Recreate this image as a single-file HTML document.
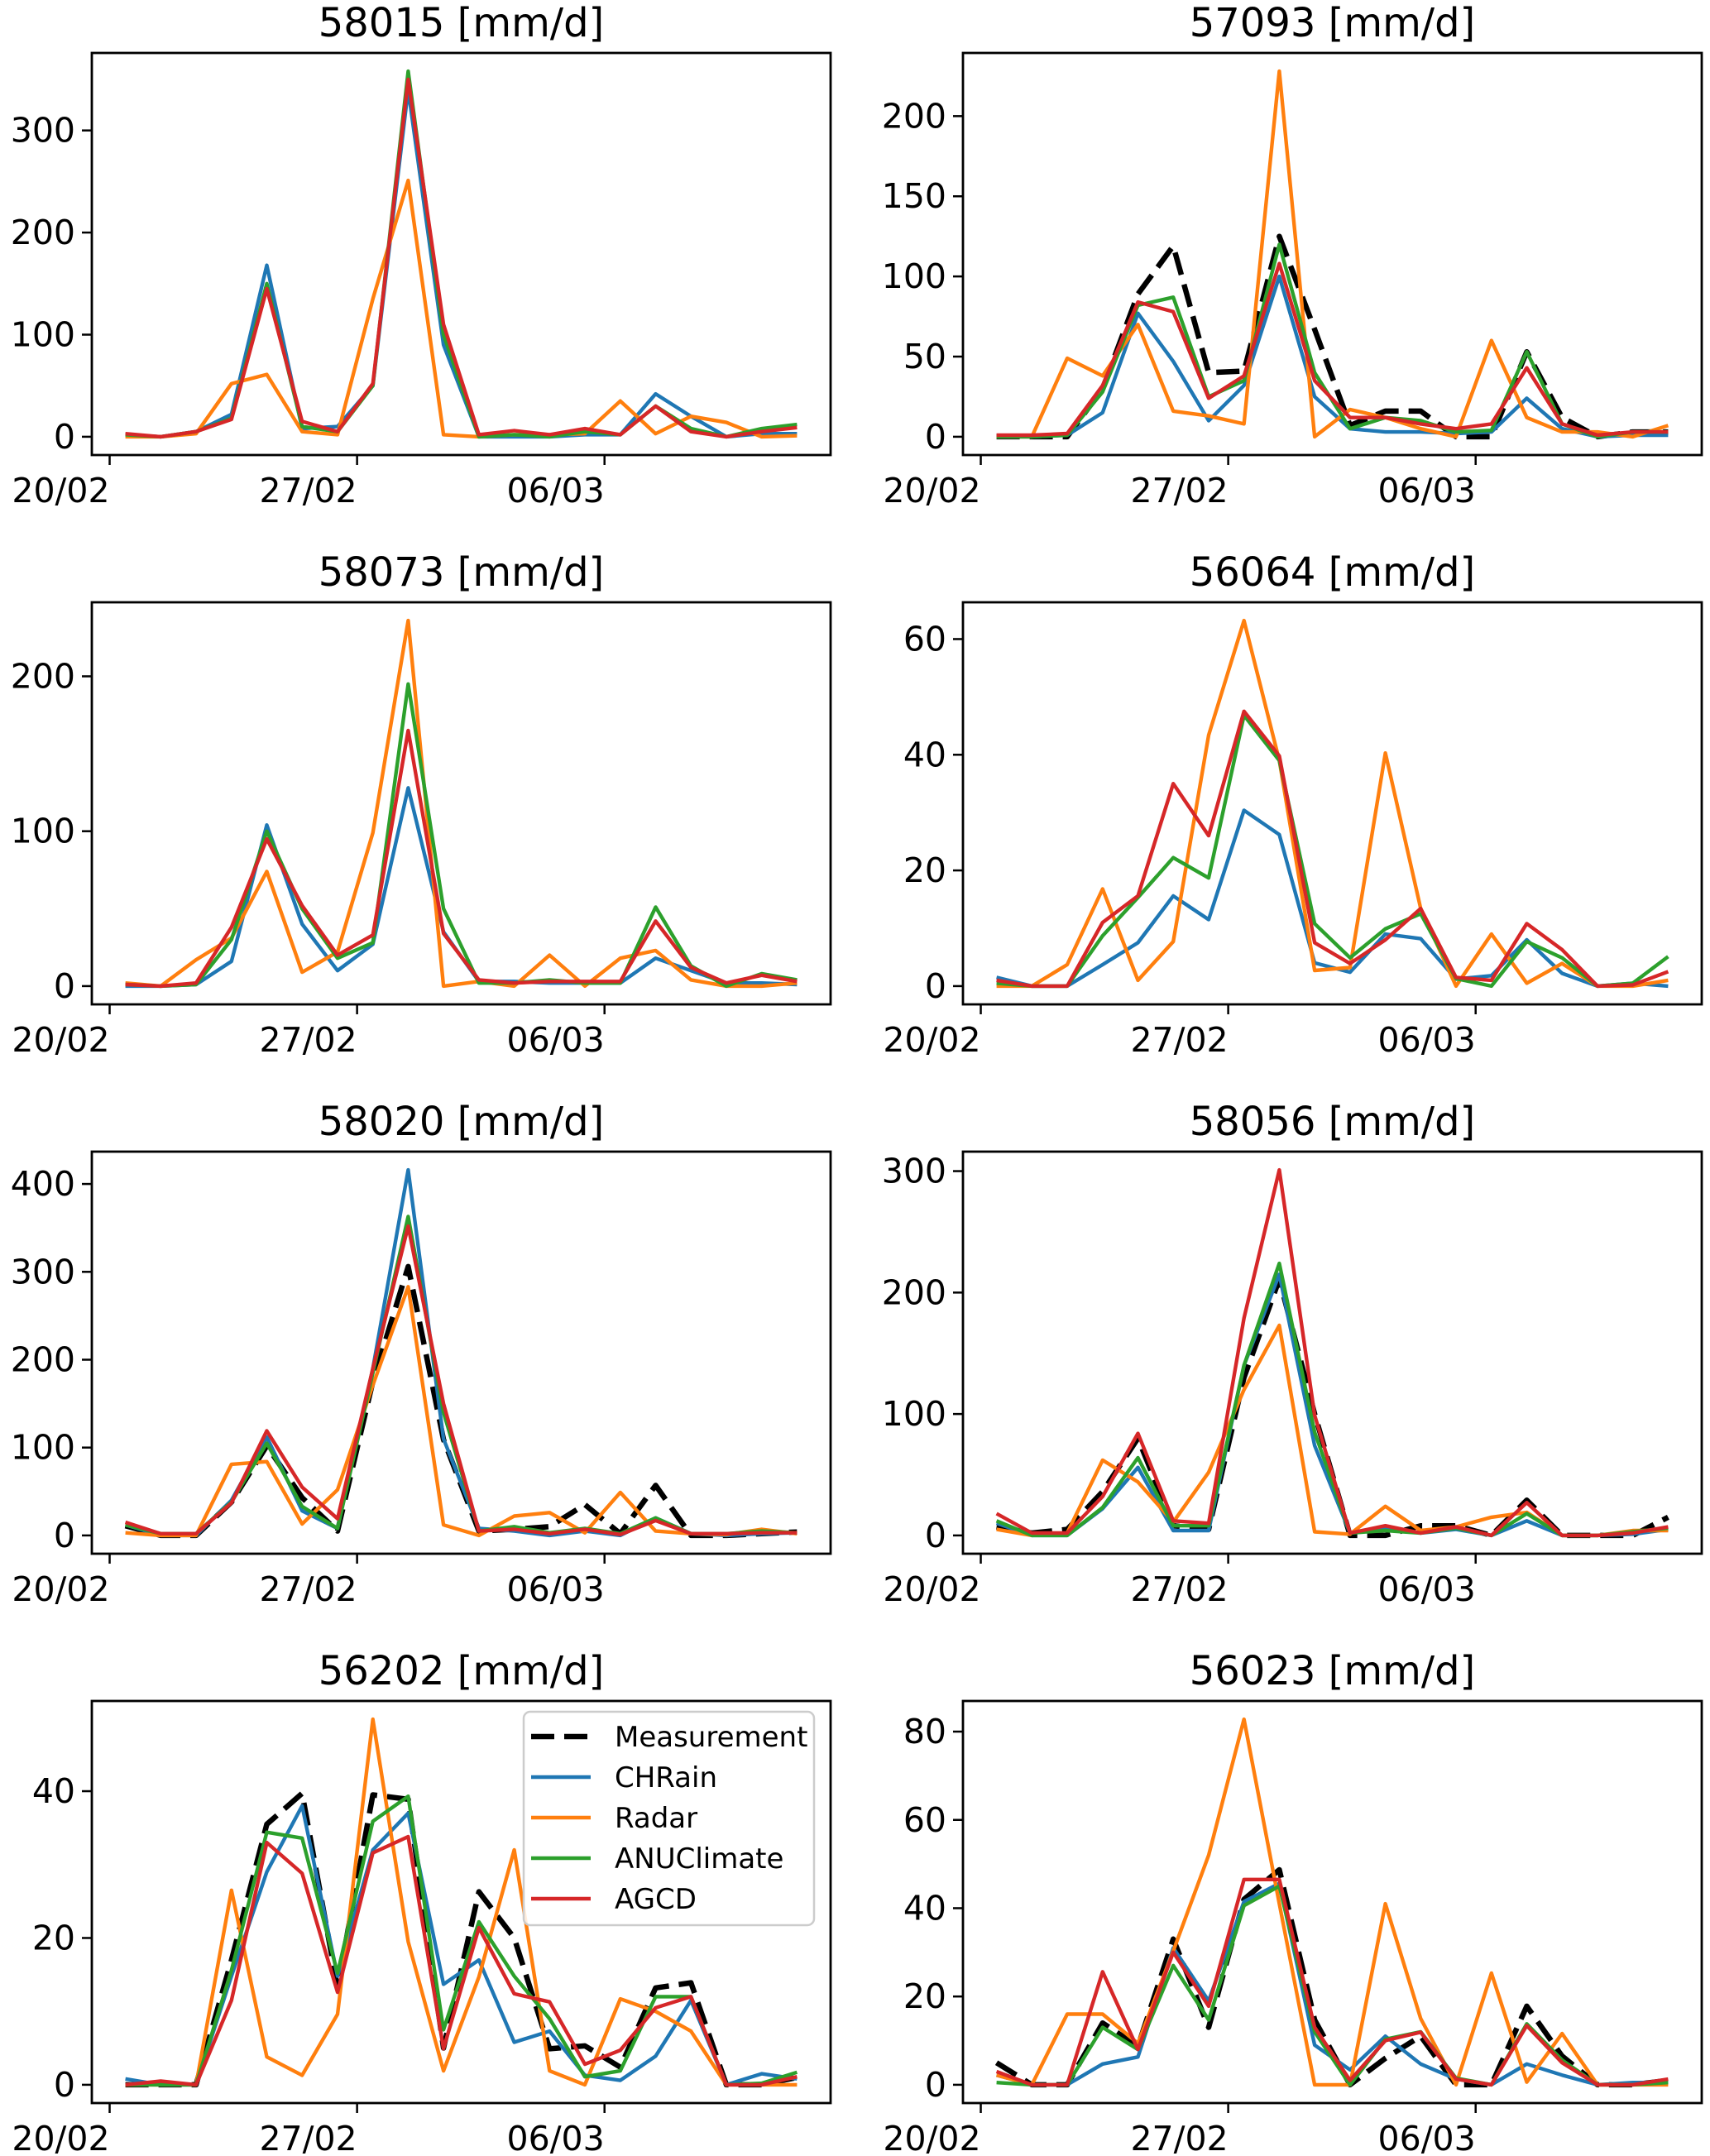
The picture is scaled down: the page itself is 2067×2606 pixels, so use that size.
<!DOCTYPE html>
<html><head><meta charset="utf-8"><title>Station precipitation comparison</title>
<style>
html,body{margin:0;padding:0;background:#fff;}
svg{display:block;font-family:"DejaVu Sans","Liberation Sans",sans-serif;}
</style></head>
<body>
<svg id="fig" xmlns="http://www.w3.org/2000/svg" width="2067" height="2606" viewBox="0 0 2067 2606">
<rect x="0" y="0" width="2067" height="2606" fill="#fff"/>
</svg>
<script>
// ---- data ----
const titles = ["58015 [mm/d]","57093 [mm/d]","58073 [mm/d]","56064 [mm/d]","58020 [mm/d]","58056 [mm/d]","56202 [mm/d]","56023 [mm/d]"];
const seriesNames = ["Measurement","CHRain","Radar","ANUClimate","AGCD"];
const dateLabels = ["20/02","27/02","06/03"];
const dateTickDays = [0,7,14];
const firstSampleDay = 0.446;

const p1Meas = null;
const p1Blue = [2,0,5,22,168,8,10,50,340,90,0,0,0,2,2,42,20,0,3,3];
const p1Orange = [0,0,3,52,61,5,2,135,251,2,0,2,2,3,35,3,20,14,0,1];
const p1Green = [2,0,5,18,150,10,5,50,358,100,0,2,0,5,2,30,8,0,8,12];
const p1Red = [3,0,5,17,145,15,5,52,350,110,2,6,2,8,2,30,5,0,5,9];
const p1Ticks = [0,100,200,300];

const p2Meas = [0,0,0,30,89,119,40,41,125,67,7,16,16,0,0,53,12,0,3,3];
const p2Blue = [0,0,1,15,77,47,10,32,100,25,5,3,3,2,3,24,5,0,1,1];
const p2Orange = [0,0,49,38,70,16,13,8,228,0,17,12,5,0,60,12,3,3,0,7];
const p2Green = [0,0,1,28,82,87,25,35,120,40,5,12,10,3,4,53,8,0,3,3];
const p2Red = [1,1,2,32,84,78,24,38,108,35,12,12,8,5,8,43,8,1,3,3];
const p2Ticks = [0,50,100,150,200];

const p3Meas = null;
const p3Blue = [0,0,1,16,104,40,10,27,128,35,3,3,2,2,2,18,10,2,2,1];
const p3Orange = [2,0,17,31,74,9,22,99,236,0,3,0,20,0,18,23,4,0,0,2];
const p3Green = [1,0,1,30,100,50,18,28,195,50,2,2,4,2,2,51,13,0,8,4];
const p3Red = [1,0,2,38,95,52,20,33,165,34,4,2,3,3,3,42,12,2,7,3];
const p3Ticks = [0,100,200];

const p4Meas = null;
const p4Blue = [1.5,0,0,3.7,7.5,15.6,11.5,30.4,26.2,4,2.4,9,8.2,1.2,1.8,8,2.2,0,0.5,0];
const p4Orange = [0,0,3.7,16.8,1,7.7,43.4,63.2,39,2.7,3.2,40.3,13.4,0,9,0.5,3.9,0,0,1];
const p4Green = [0.5,0,0,8.7,15.3,22.2,18.7,46.8,39,10.8,4.9,9.9,12.5,1.3,0,7.7,4.9,0,0.5,5.1];
const p4Red = [1,0,0,11,15.6,35,26,47.5,39.8,7.5,3.9,8,13.4,1.5,1,10.8,6.3,0,0.2,2.5];
const p4Ticks = [0,20,40,60];

const p5Meas = [11,0,0,38,102,43,5,175,306,109,5,7,10,35,2,57,0,0,2,4];
const p5Blue = [12,0,0,40,112,28,8,190,416,110,8,5,0,5,0,20,2,0,2,3];
const p5Orange = [3,0,0,81,84,13,52,171,283,12,0,22,26,3,49,5,2,1,7,2];
const p5Green = [12,2,2,38,105,33,8,185,363,140,5,10,3,8,2,20,2,2,5,3];
const p5Red = [15,2,2,37,119,55,19,190,352,150,5,7,2,7,1,17,2,2,3,3];
const p5Ticks = [0,100,200,300,400];

const p6Meas = [7,2,5,36,80,8,5,130,211,100,0,0,8,8,0,29,0,0,0,15];
const p6Blue = [10,0,0,22,56,4,4,140,215,74,2,6,2,5,0,12,0,0,1,5];
const p6Orange = [5,0,2,62,44,11,52,120,173,3,1,24,4,7,15,19,0,0,4,4];
const p6Green = [12,0,0,23,64,8,8,140,224,85,2,4,2,6,0,18,0,0,3,6];
const p6Red = [18,2,2,32,84,12,10,179,301,99,2,8,2,7,0,27,0,0,2,7];
const p6Ticks = [0,100,200,300];

const p7Meas = [0,0,0,17,35.5,39.7,13.3,39.5,38.9,5,26.3,20,4.9,5.3,2.4,13.2,13.9,0,0,1];
const p7Blue = [0.8,0,0,14.8,29,38,14.8,32,37,13.7,17,5.8,7.3,1.3,0.6,3.9,11.5,0,1.5,0.8];
const p7Orange = [0,0,0,26.5,3.8,1.3,9.6,49.8,19.5,1.9,14.7,32,1.9,0,11.7,10,7.3,0,0,0];
const p7Green = [0,0,0,15.6,34.4,33.6,15.2,35.9,39.3,7.5,22.2,14.8,9,1.1,1.9,12,12,0,0.2,1.7];
const p7Red = [0,0.5,0,11.5,33,28.8,12.6,31.6,33.8,4.9,21.4,12.4,11.3,2.8,4.7,10.5,12,0,0,1.1];
const p7Ticks = [0,20,40];

const p8Meas = [5,0,0,14,8.7,33,13,42,48.7,14.7,0,6,11,0,0,17.8,6.5,0,0,1];
const p8Blue = [2.2,0,0,4.7,6.3,31,19,41.5,45.6,9,3.4,11,4.7,1.3,0,4.7,2.2,0,0.5,0.5];
const p8Orange = [2.2,0,16,16,9.4,30.3,52,82.8,41,0,0,41,15,0,25.3,0.6,11.6,0,0,0];
const p8Green = [0.5,0,0,13,8,27,14.7,40.6,45,12,0,10.3,12,1.5,0,13.8,5.6,0,0,0.5];
const p8Red = [3,0,0,25.6,8,30,17.8,46.5,46.5,13,1,10,11.9,1.3,0,13.4,5,0,0,1.3];
const p8Ticks = [0,20,40,60,80];

const panelSeries = [
  [p1Meas,p1Blue,p1Orange,p1Green,p1Red],
  [p2Meas,p2Blue,p2Orange,p2Green,p2Red],
  [p3Meas,p3Blue,p3Orange,p3Green,p3Red],
  [p4Meas,p4Blue,p4Orange,p4Green,p4Red],
  [p5Meas,p5Blue,p5Orange,p5Green,p5Red],
  [p6Meas,p6Blue,p6Orange,p6Green,p6Red],
  [p7Meas,p7Blue,p7Orange,p7Green,p7Red],
  [p8Meas,p8Blue,p8Orange,p8Green,p8Red]
];
const panelTicks = [p1Ticks,p2Ticks,p3Ticks,p4Ticks,p5Ticks,p6Ticks,p7Ticks,p8Ticks];

// ---- layout / style ----
const NS = "http://www.w3.org/2000/svg";
const svg = document.getElementById("fig");
const colors = ["#000000","#1f77b4","#ff7f0e","#2ca02c","#d62728"];
const AX_W = 893, AX_H = 486;
const LEFTS = [111,1164];
const TOPS = [64,728,1392,2056];

function mk(tag, attrs, parent){
  const e = document.createElementNS(NS, tag);
  for (const k in attrs) e.setAttribute(k, attrs[k]);
  (parent||svg).appendChild(e);
  return e;
}

panelSeries.forEach(function(series, p){
  const left = LEFTS[p%2], top = TOPS[Math.floor(p/2)];
  const n = series[1].length;
  const xMin = -(n-1)*0.05, xMax = (n-1)*1.05;
  let lo = Infinity, hi = -Infinity;
  series.forEach(function(s){ if(s){ s.forEach(function(v){ lo=Math.min(lo,v); hi=Math.max(hi,v); }); } });
  const pad = (hi-lo)*0.05; const yMin = lo-pad, yMax = hi+pad;
  const xs = function(i){ return left + (i - xMin)/(xMax - xMin)*AX_W; };
  const ys = function(v){ return top + AX_H - (v - yMin)/(yMax - yMin)*AX_H; };

  const g = mk("g", {});
  
  

  const title = mk("text", {x: left + AX_W/2, y: top - 20, "text-anchor":"middle", "font-size":"48", fill:"#000"}, g);
  title.textContent = titles[p];
  
  

  const clipId = "clip" + p;
  const cp = mk("clipPath", {id: clipId}, g);
  mk("rect", {x:left, y:top, width:AX_W, height:AX_H}, cp);

  panelTicks[p].forEach(function(t){
    const y = ys(t);
    const tk = mk("line", {x1:left-12, x2:left, y1:y, y2:y, stroke:"#000", "stroke-width":"2.5"}, g);
    
    
    const lb = mk("text", {x:left-20, y:y+14, "text-anchor":"end", "font-size":"41", fill:"#000"}, g);
    lb.textContent = String(t);
    
    
  });
  dateTickDays.forEach(function(d, k){
    const x = xs(d - firstSampleDay);
    const tk = mk("line", {x1:x, x2:x, y1:top+AX_H, y2:top+AX_H+12, stroke:"#000", "stroke-width":"2.5"}, g);
    
    
    const lb = mk("text", {x:x, y:top+AX_H+57, "text-anchor":"end", "font-size":"41", fill:"#000"}, g);
    lb.textContent = dateLabels[k];
    
    
  });

  series.forEach(function(s, si){
    if (!s) return;
    const pts = s.map(function(v,i){ return xs(i).toFixed(1)+","+ys(v).toFixed(1); }).join(" ");
    const attrs = {points:pts, fill:"none", stroke:colors[si], "stroke-linejoin":"round", "clip-path":"url(#"+clipId+")"};
    if (si === 0){ attrs["stroke-width"]="6.5"; attrs["stroke-dasharray"]="28,12"; }
    else { attrs["stroke-width"]="4.4"; }
    const pl = mk("polyline", attrs, g);
    
    
  });

  const frame = mk("rect", {x:left, y:top, width:AX_W, height:AX_H, fill:"none", stroke:"#000", "stroke-width":"2.8"}, g);
  
  

  if (p === 6){
    const lg = mk("g", {}, g);
    
    
    const box = mk("rect", {x:633, y:2069, width:351, height:258, rx:8, fill:"#fff", "fill-opacity":"0.85", stroke:"#cccccc", "stroke-width":"2.5"}, lg);
    
    
    seriesNames.forEach(function(nm, k){
      const y = 2099 + k*49;
      const ln = mk("line", {x1:642, x2:714, y1:y, y2:y, stroke:colors[k], "stroke-width": k===0 ? "6.5" : "4.4"}, lg);
      if (k===0) ln.setAttribute("stroke-dasharray","28,12");
      
      
      const tx = mk("text", {x:743, y:y+12, "font-size":"34", fill:"#000"}, lg);
      tx.textContent = nm;
      
      
    });
  }
});
</script>
</body></html>
